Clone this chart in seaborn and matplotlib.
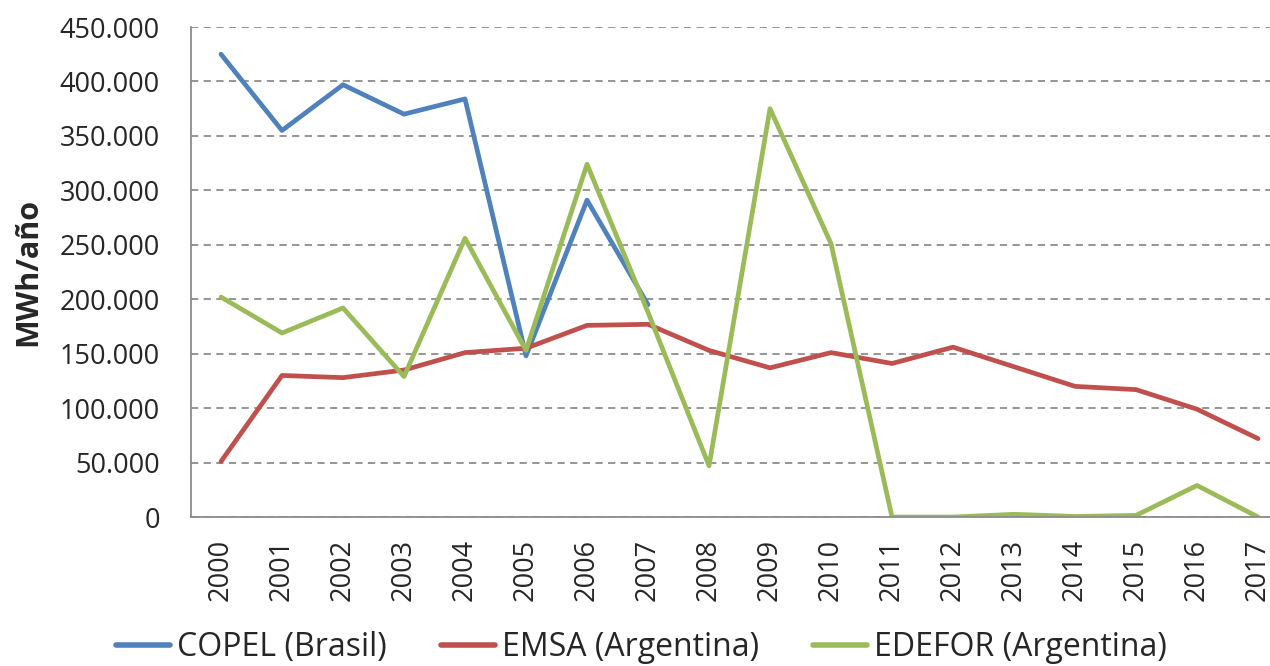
import numpy as np
import pandas as pd
import matplotlib
matplotlib.use("Agg")
import matplotlib.pyplot as plt
import seaborn as sns

## data (MWh/año)
years = list(range(2000, 2018))
copel = [425000, 355000, 397000, 370000, 384000, 148000, 291000, 195000,
         None, None, None, None, None, None, None, None, None, None]
emsa = [51000, 130000, 128000, 135000, 151000, 155000, 176000, 177000,
        153000, 137000, 151000, 141000, 156000, 138000, 120000, 117000, 99000, 72000]
edefor = [202000, 169000, 192000, 129000, 256000, 153000, 324000, 188000,
          47000, 375000, 251000, 0, 0, 2500, 500, 1500, 29000, 0]

series_names = ["COPEL (Brasil)", "EMSA (Argentina)", "EDEFOR (Argentina)"]
colors = ["#4F81BD", "#C0504D", "#9BBB59"]

df = pd.DataFrame({"year": years, series_names[0]: copel,
                   series_names[1]: emsa, series_names[2]: edefor})
long = df.melt(id_vars="year", var_name="serie", value_name="valor").dropna()

sns.set_style("white")
plt.rcParams['font.family'] = ['Open Sans', 'DejaVu Sans']

fig = plt.figure(figsize=(12.7, 6.66), dpi=100)
ax = fig.add_axes([0.150, 0.2237, 0.8646, 0.7357])

sns.lineplot(data=long, x="year", y="valor", hue="serie", hue_order=series_names,
             palette=colors, linewidth=3.4, ax=ax, legend=False, sort=False)

# axes
ax.set_xlim(1999.5, 2017.5)
ax.set_ylim(0, 450000)
yt = np.arange(0, 450001, 50000)
ax.set_yticks(yt)
ax.set_yticklabels([f"{v:,.0f}".replace(",", ".") for v in yt], fontsize=19.5)
ax.set_xticks(years)
ax.set_xticklabels([str(y) for y in years], rotation=90, fontsize=19.5)
ax.set_xticks(np.arange(1999.5, 2018, 1), minor=True)
ax.tick_params(axis="x", which="major", length=0, pad=16)
ax.tick_params(axis="x", which="minor", length=8, width=1.3, color="#8c8c8c")
ax.tick_params(axis="y", length=8, width=1.3, color="#8c8c8c", pad=14)

ax.yaxis.grid(True, linestyle=(0, (4, 3)), color="#8c8c8c", linewidth=1.3)
ax.set_axisbelow(True)
for s in ["top", "right"]:
    ax.spines[s].set_visible(False)
for s in ["left", "bottom"]:
    ax.spines[s].set_color("#8c8c8c")
    ax.spines[s].set_linewidth(1.3)

ax.set_xlabel("")
ax.set_ylabel("MWh/año", fontsize=22, fontweight="bold", labelpad=12)

# legend at the bottom
handles = [plt.Line2D([], [], color=c, linewidth=4, solid_capstyle="round") for c in colors]
fig.legend(handles, series_names, loc="center", bbox_to_anchor=(0.505, 0.028),
           ncol=3, frameon=False, fontsize=23, handlelength=1.7,
           handletextpad=0.2, columnspacing=1.7)

plt.savefig("out.png", dpi=100)
